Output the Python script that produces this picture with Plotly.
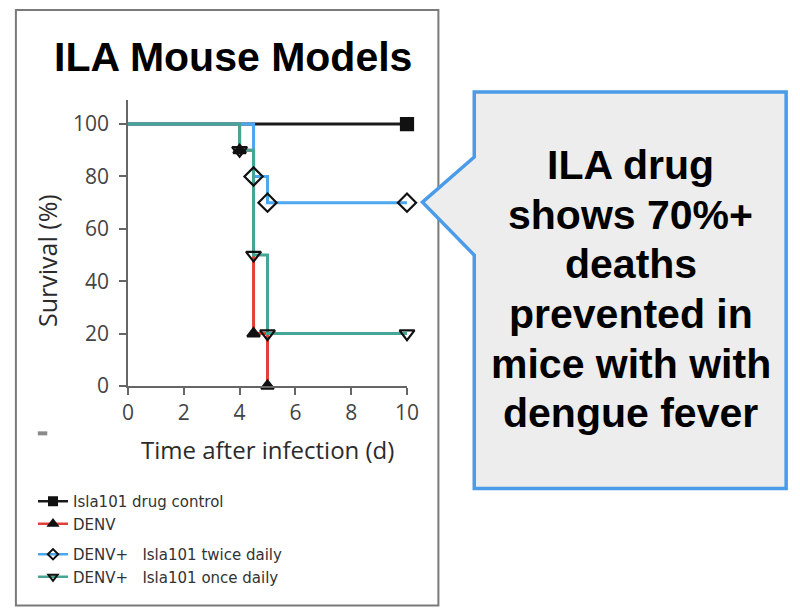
import plotly.graph_objects as go

# ---- data ----
control_t = [0, 10]
control_s = [100, 100]
denv_t = [0, 4, 4.5, 5]
denv_s = [100, 90, 20, 0]
twice_t = [0, 4.5, 5, 10]
twice_s = [100, 80, 70, 70]
once_t = [0, 4, 4.5, 5, 10]
once_s = [100, 90, 50, 20, 20]

x_ticks = [0, 2, 4, 6, 8, 10]
y_ticks = [0, 20, 40, 60, 80, 100]

names = ["Isla101 drug control", "DENV",
         "DENV+   Isla101 twice daily", "DENV+   Isla101 once daily"]
colors = ["#1a1a1a", "#e2403a", "#4ba8ee", "#45a596"]
symbols = ["square", "triangle-up", "diamond-open", "triangle-down-open"]
title_text = "ILA Mouse Models"
callout_lines = ["ILA drug", "shows 70%+", "deaths", "prevented in",
                 "mice with with", "dengue fever"]

# page has an 8px body margin; figure is sized to fit inside the 800x616 window
OFF = 8
W, H = 800 - 2 * OFF, 616 - 2 * OFF
L, R, T, B = 127.5, 407.5, 100, 385.7   # target window pixels of the plot area


def px(x):
    return (x - L) / (R - L)


def py(y):
    return (B - y) / (B - T)


def cx(x):
    return (x - OFF) / W


def cy(y):
    return 1 - (y - OFF) / H


fig = go.Figure()
series = [(control_t, control_s), (denv_t, denv_s), (twice_t, twice_s), (once_t, once_s)]
groups = ["g1", "g1", "g2", "g2"]

# step lines
for (t, s), c in zip(series, colors):
    fig.add_trace(go.Scatter(x=t, y=s, mode="lines", line=dict(color=c, width=3, shape="hv"),
                             showlegend=False, hoverinfo="skip", cliponaxis=False))
# markers at event points
msize = [12, 11, 14, 13]
for (t, s), sym, ms in zip(series, symbols, msize):
    fig.add_trace(go.Scatter(x=t[1:], y=s[1:], mode="markers",
                             marker=dict(symbol=sym, size=ms, color="#111111",
                                         line=dict(color="#111111", width=2.2)),
                             showlegend=False, cliponaxis=False))
# legend entries
for n, c, sym, g in zip(names, colors, symbols, groups):
    fig.add_trace(go.Scatter(x=[None], y=[None], mode="lines+markers", name=n, legendgroup=g,
                             line=dict(color=c, width=2.5),
                             marker=dict(symbol=sym, size=8, color="#111111",
                                         line=dict(color="#111111", width=2))))

shapes = [
    dict(type="rect", xref="paper", yref="paper", x0=px(15), x1=px(439), y0=py(10), y1=py(605),
         line=dict(color="#7a7a7a", width=2), layer="below"),
    dict(type="path", xref="paper", yref="paper",
         path="M {a},{b} L {c},{b} L {c},{d} L {a},{d} L {a},{e} L {f},{g} L {a},{h} Z".format(
             a=px(475), b=py(92), c=px(788), d=py(488), e=py(255), f=px(423), g=py(202), h=py(157)),
         fillcolor="#ededed", line=dict(color="#4a9be8", width=3.5), layer="below"),
    dict(type="rect", xref="paper", yref="paper", x0=px(37), x1=px(46.5), y0=py(431), y1=py(435),
         fillcolor="#8a8a8a", line=dict(width=0)),
]

annotations = [
    dict(text="<b>" + title_text + "</b>", xref="paper", yref="paper", x=px(232.5), y=py(57),
         xanchor="center", yanchor="middle", showarrow=False,
         font=dict(family="Liberation Sans, Arial", size=41, color="#000000")),
    dict(text="Time after infection (d)", xref="paper", yref="paper", x=px(268), y=py(449),
         xanchor="center", yanchor="middle", showarrow=False,
         font=dict(family="Open Sans", size=24, color="#2b2b2b")),
    dict(text="Survival (%)", xref="paper", yref="paper", x=px(46), y=py(260),
         xanchor="center", yanchor="middle", showarrow=False, textangle=-90,
         font=dict(family="Open Sans", size=25, color="#2b2b2b")),
]
for i, line in enumerate(callout_lines):
    annotations.append(dict(text="<b>" + line + "</b>", xref="paper", yref="paper",
                            x=px(632), y=py(165 + i * 49.6), xanchor="center", yanchor="middle",
                            showarrow=False,
                            font=dict(family="Liberation Sans, Arial", size=41, color="#000000")))

fig.update_layout(
    width=W, height=H,
    margin=dict(l=L - OFF, r=W - (R - OFF), t=T - OFF, b=H - (B - OFF), pad=0,
                autoexpand=False),
    paper_bgcolor="white", plot_bgcolor="white",
    shapes=shapes, annotations=annotations,
    font=dict(family="Open Sans", color="#444444"),
    legend=dict(xref="container", yref="container", x=cx(33), y=cy(485),
                xanchor="left", yanchor="top",
                font=dict(family="DejaVu Sans", size=15, color="#333333"),
                tracegroupgap=8, bgcolor="rgba(0,0,0,0)"),
    xaxis=dict(range=[0, 10], tickvals=x_ticks, showgrid=False, zeroline=False,
               showline=True, linecolor="#666666", linewidth=1.5,
               ticks="outside", ticklen=7, tickcolor="#666666", tickwidth=1.5,
               tickfont=dict(size=21, color="#444444"), fixedrange=True),
    yaxis=dict(range=[0, 109.2], tickvals=y_ticks, showgrid=False, zeroline=False,
               showline=True, linecolor="#666666", linewidth=1.5,
               ticks="outside", ticklen=7, tickcolor="#666666", tickwidth=1.5,
               ticklabelstandoff=6,
               tickfont=dict(size=21, color="#444444"), fixedrange=True),
)

fig.write_html("out.html")
